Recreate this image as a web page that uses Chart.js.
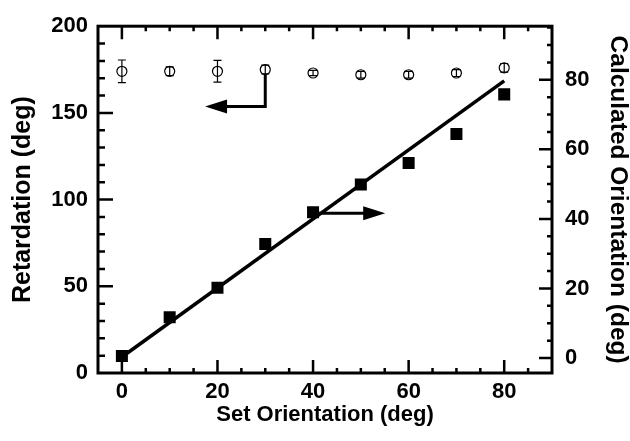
<!DOCTYPE html>
<html>
<head>
<meta charset="utf-8">
<script src="https://cdn.jsdelivr.net/npm/chart.js@4/dist/chart.umd.min.js"></script>
<style>
  html, body { margin: 0; padding: 0; background: #fff; }
  #wrap { width: 630px; height: 441px; position: relative; }
</style>
</head>
<body>
<div id="wrap"><canvas id="chart"></canvas></div>
<script>
const setOrientation = [0, 10, 20, 30, 40, 50, 60, 70, 80];
const retardation = [174, 174, 174, 175, 173, 172, 172, 173, 176];
const retardationErr = [6.5, 2.5, 6.3, 2.5, 1.5, 2, 2, 2, 2.5];
const calcOrientation = [0.6, 11.7, 20.2, 32.8, 41.9, 49.9, 56.1, 64.4, 75.8];
const fitX = [0, 80];
const fitY = [0.3, 79.7];

const xTicks = [0, 20, 40, 60, 80];
const leftTicks = [0, 50, 100, 150, 200];
const rightTicks = [0, 20, 40, 60, 80];

// arrows in data units: [x, y], last point is the tip
const leftArrow = [[30, 172], [30, 153.7], [17.4, 153.7]];
const rightArrow = [[40, 41.6], [55.1, 41.6]];

const family = 'Liberation Sans, Arial, sans-serif';
const font = { family, weight: 'bold', size: 22 };

const toPts = (xs, ys) => xs.map((x, i) => ({ x, y: ys[i] }));

// frame, inward ticks, error bars and arrows
const extras = {
  id: 'extras',
  afterDatasetsDraw(chart) {
    const { ctx, chartArea: a, scales } = chart;
    const sx = scales.x, sy = scales.y, sy2 = scales.y2;
    ctx.save();
    ctx.strokeStyle = '#000';
    ctx.fillStyle = '#000';

    // error bars
    ctx.lineWidth = 1.2;
    setOrientation.forEach((x, i) => {
      const px = sx.getPixelForValue(x);
      const top = sy.getPixelForValue(retardation[i] + retardationErr[i]);
      const bot = sy.getPixelForValue(retardation[i] - retardationErr[i]);
      ctx.beginPath();
      ctx.moveTo(px, top); ctx.lineTo(px, bot);
      ctx.moveTo(px - 4, top); ctx.lineTo(px + 4, top);
      ctx.moveTo(px - 4, bot); ctx.lineTo(px + 4, bot);
      ctx.stroke();
    });

    // arrows
    const drawArrow = (pts, scaleY) => {
      const p = pts.map(([x, y]) => [sx.getPixelForValue(x), scaleY.getPixelForValue(y)]);
      const n = p.length;
      const [tx, ty] = p[n - 1];
      const [bx, by] = p[n - 2];
      const ang = Math.atan2(ty - by, tx - bx);
      const len = 22, hw = 7;
      ctx.lineWidth = 3;
      ctx.beginPath();
      ctx.moveTo(p[0][0], p[0][1]);
      for (let i = 1; i < n - 1; i++) ctx.lineTo(p[i][0], p[i][1]);
      ctx.lineTo(tx - Math.cos(ang) * (len - 2), ty - Math.sin(ang) * (len - 2));
      ctx.stroke();
      ctx.beginPath();
      ctx.moveTo(tx, ty);
      ctx.lineTo(tx - Math.cos(ang) * len - Math.sin(ang) * hw, ty - Math.sin(ang) * len + Math.cos(ang) * hw);
      ctx.lineTo(tx - Math.cos(ang) * len + Math.sin(ang) * hw, ty - Math.sin(ang) * len - Math.cos(ang) * hw);
      ctx.closePath();
      ctx.fill();
    };
    drawArrow(leftArrow, sy);
    drawArrow(rightArrow, sy2);

    // inward ticks
    ctx.lineWidth = 2.5;
    ctx.beginPath();
    for (let v = sx.min + 5; v < sx.max; v += 5) {
      const px = sx.getPixelForValue(v);
      const l = v % 20 === 0 ? 13 : 5;
      ctx.moveTo(px, a.bottom); ctx.lineTo(px, a.bottom - l);
      ctx.moveTo(px, a.top); ctx.lineTo(px, a.top + l);
    }
    for (let v = 10; v < sy.max; v += 10) {
      const py = sy.getPixelForValue(v);
      const l = v % 50 === 0 ? 15 : 7;
      ctx.moveTo(a.left, py); ctx.lineTo(a.left + l, py);
    }
    for (let v = 0; v < sy2.max; v += 5) {
      const py = sy2.getPixelForValue(v);
      const l = v % 20 === 0 ? 13 : 5;
      ctx.moveTo(a.right, py); ctx.lineTo(a.right - l, py);
    }
    ctx.stroke();

    // frame
    ctx.lineWidth = 3;
    ctx.strokeRect(a.left, a.top, a.right - a.left, a.bottom - a.top);
    ctx.restore();
  }
};

const fixTicks = vals => scale => { scale.ticks = vals.map(v => ({ value: v })); };

new Chart(document.getElementById('chart'), {
  type: 'scatter',
  data: {
    datasets: [
      {
        label: 'Retardation',
        data: toPts(setOrientation, retardation),
        yAxisID: 'y',
        pointStyle: 'circle',
        pointRadius: 5,
        borderColor: '#000',
        borderWidth: 1.2,
        backgroundColor: 'rgba(0,0,0,0)'
      },
      {
        label: 'Calculated Orientation',
        data: toPts(setOrientation, calcOrientation),
        yAxisID: 'y2',
        pointStyle: 'rect',
        pointRadius: 8.5,
        borderWidth: 0,
        backgroundColor: '#000'
      },
      {
        label: 'Fit',
        type: 'line',
        data: toPts(fitX, fitY),
        yAxisID: 'y2',
        borderColor: '#000',
        borderWidth: 3.5,
        pointRadius: 0,
        fill: false
      }
    ]
  },
  options: {
    responsive: true,
    maintainAspectRatio: false,
    animation: false,
    layout: { padding: { top: 23, right: 0, left: 0, bottom: 0 } },
    plugins: { legend: { display: false }, tooltip: { enabled: false } },
    scales: {
      x: {
        type: 'linear',
        min: -5, max: 90,
        afterBuildTicks: fixTicks(xTicks),
        afterFit: s => { s.height = 68; },
        grid: { display: false, drawTicks: false },
        border: { display: false },
        ticks: { color: '#000', font, padding: 6 },
        title: { display: true, text: 'Set Orientation (deg)', color: '#000', font: { family, weight: 'bold', size: 22 }, padding: { top: 0, bottom: 13 } }
      },
      y: {
        type: 'linear',
        position: 'left',
        min: 0, max: 200,
        afterBuildTicks: fixTicks(leftTicks),
        afterFit: s => { s.width = 98; },
        grid: { display: false, drawTicks: false },
        border: { display: false },
        ticks: { color: '#000', font, padding: 10 },
        title: { display: true, text: 'Retardation (deg)', color: '#000', font: { family, weight: 'bold', size: 25, lineHeight: 1 }, padding: { top: 11, bottom: 0 } }
      },
      y2: {
        type: 'linear',
        position: 'right',
        min: -4.3, max: 95.4,
        afterBuildTicks: fixTicks(rightTicks),
        afterFit: s => { s.width = 78; },
        grid: { display: false, drawTicks: false },
        border: { display: false },
        ticks: { color: '#000', font, padding: 13 },
        title: { display: true, text: 'Calculated Orientation (deg)', color: '#000', font: { family, weight: 'bold', size: 24.5, lineHeight: 1 }, padding: { top: 0, bottom: 0 } }
      }
    }
  },
  plugins: [extras]
});
</script>
</body>
</html>
